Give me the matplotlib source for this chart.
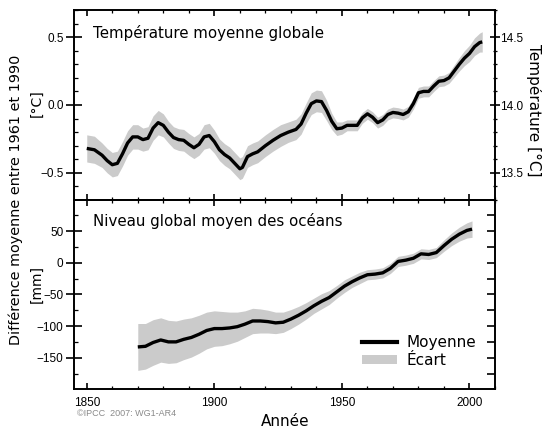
import matplotlib
matplotlib.use('Agg')
import matplotlib.pyplot as plt
from matplotlib.ticker import MultipleLocator
from matplotlib.lines import Line2D
from matplotlib.patches import Patch

# ---- data ----
temp_years = [1850, 1853, 1856, 1858, 1860, 1862, 1864, 1866, 1868, 1870, 1872, 1874,
              1876, 1878, 1880, 1882, 1884, 1886, 1888, 1890, 1892, 1894, 1896, 1898,
              1900, 1902, 1904, 1906, 1908, 1910, 1911, 1913, 1915, 1917, 1920, 1923,
              1926, 1929, 1932, 1934, 1936, 1938, 1940, 1942, 1944, 1946, 1948, 1950,
              1952, 1954, 1956, 1958, 1960, 1962, 1964, 1966, 1968, 1970, 1972, 1974,
              1976, 1978, 1980, 1982, 1984, 1986, 1988, 1990, 1992, 1994, 1996, 1998,
              2000, 2002, 2004, 2005]
temp_mean = [-0.32, -0.33, -0.37, -0.41, -0.44, -0.43, -0.36, -0.28, -0.235, -0.235, -0.255, -0.245,
             -0.17, -0.13, -0.15, -0.20, -0.24, -0.255, -0.26, -0.29, -0.315, -0.29, -0.235, -0.225,
             -0.27, -0.33, -0.365, -0.39, -0.43, -0.47, -0.46, -0.38, -0.36, -0.345, -0.30, -0.26,
             -0.225, -0.20, -0.18, -0.14, -0.06, 0.01, 0.03, 0.025, -0.04, -0.12, -0.175, -0.17,
             -0.15, -0.15, -0.15, -0.095, -0.065, -0.09, -0.13, -0.11, -0.07, -0.055, -0.06, -0.07,
             -0.05, 0.01, 0.09, 0.10, 0.10, 0.14, 0.175, 0.18, 0.20, 0.25, 0.30, 0.345,
             0.38, 0.43, 0.46, 0.465]
temp_err = [0.10, 0.10, 0.09, 0.09, 0.09, 0.09, 0.09, 0.09, 0.09, 0.09, 0.085, 0.085,
            0.09, 0.09, 0.085, 0.08, 0.08, 0.08, 0.08, 0.08, 0.08, 0.08, 0.09, 0.09,
            0.085, 0.08, 0.08, 0.08, 0.08, 0.08, 0.08, 0.08, 0.08, 0.08, 0.08, 0.08,
            0.08, 0.075, 0.075, 0.075, 0.075, 0.08, 0.08, 0.08, 0.075, 0.06, 0.05, 0.045,
            0.04, 0.04, 0.04, 0.04, 0.04, 0.04, 0.04, 0.04, 0.04, 0.04, 0.04, 0.04,
            0.04, 0.04, 0.04, 0.04, 0.04, 0.04, 0.04, 0.04, 0.04, 0.045, 0.05, 0.055,
            0.06, 0.065, 0.07, 0.075]

sea_years = [1870, 1873, 1876, 1879, 1882, 1885, 1888, 1891, 1894, 1897, 1900, 1903,
             1906, 1909, 1912, 1915, 1918, 1921, 1924, 1927, 1930, 1933, 1936, 1939,
             1942, 1945, 1948, 1951, 1954, 1957, 1960, 1963, 1966, 1969, 1972, 1975,
             1978, 1981, 1984, 1987, 1990, 1993, 1996, 1999, 2001]
sea_mean = [-133, -132, -126, -122, -125, -125, -121, -118, -113, -107, -104, -104,
            -103, -101, -97, -92, -92, -93, -95, -94, -89, -83, -76, -68,
            -61, -55, -46, -37, -30, -24, -19, -18, -16, -9, 2, 4,
            7, 14, 13, 16, 27, 37, 45, 51, 53]
sea_err = [37, 36, 36, 35, 34, 33, 32, 31, 30, 29, 28, 27,
           25, 23, 21, 20, 19, 18, 17, 16, 15, 14, 13, 12,
           12, 11, 10, 10, 9, 9, 8, 8, 8, 8, 8, 8,
           8, 8, 8, 8, 9, 10, 11, 12, 13]

temp_offset = 14.0
title_temp = "Température moyenne globale"
title_sea = "Niveau global moyen des océans"
legend_labels = ["Moyenne", "Écart"]

# ---- style ----
BAND = '#cbcbcb'
LINE = 'black'
TICKFONT = 'Liberation Sans'
TXTFONT = 'DejaVu Sans'

fig = plt.figure(figsize=(5.42, 4.30), dpi=100)
L, W = 74 / 542, 421 / 542
ax1 = fig.add_axes([L, 1 - 200 / 430, W, 190 / 430])
ax2 = fig.add_axes([L, 1 - 389 / 430, W, 189 / 430])

lo = [m - e for m, e in zip(temp_mean, temp_err)]
hi = [m + e for m, e in zip(temp_mean, temp_err)]
ax1.fill_between(temp_years, lo, hi, color=BAND, lw=0)
ax1.plot(temp_years, temp_mean, color=LINE, lw=2.4, solid_capstyle='butt')

lo = [m - e for m, e in zip(sea_mean, sea_err)]
hi = [m + e for m, e in zip(sea_mean, sea_err)]
ax2.fill_between(sea_years, lo, hi, color=BAND, lw=0)
ax2.plot(sea_years, sea_mean, color=LINE, lw=2.4, solid_capstyle='butt')

for ax in (ax1, ax2):
    ax.set_xlim(1845, 2010)
    ax.xaxis.set_major_locator(MultipleLocator(50))
    ax.xaxis.set_minor_locator(MultipleLocator(10))
    for s in ax.spines.values():
        s.set_linewidth(1.2)
    ax.tick_params(axis='x', which='major', direction='in', length=4.5, width=1.2,
                   top=True, bottom=True, labelsize=8.5, pad=6, labelfontfamily=TICKFONT)
    ax.tick_params(axis='x', which='minor', direction='in', length=2.2, width=0.9,
                   top=True, bottom=True)
    ax.tick_params(axis='y', which='major', direction='inout', length=12, width=1.2,
                   labelsize=8.5, pad=1.5, labelfontfamily=TICKFONT, right=False)
    ax.tick_params(axis='y', which='minor', direction='in', length=3, width=0.9, right=False)

ax1.tick_params(axis='x', labelbottom=False)
ax1.set_ylim(-0.7, 0.7)
ax1.yaxis.set_major_locator(MultipleLocator(0.5))
ax1.yaxis.set_minor_locator(MultipleLocator(0.1))

ax2.set_ylim(-199.4, 99)
ax2.yaxis.set_major_locator(MultipleLocator(50))
ax2.yaxis.set_minor_locator(MultipleLocator(25))

# right axis of the temperature panel (absolute temperature)
r1 = ax1.twinx()
r1.set_ylim(-0.7 + temp_offset, 0.7 + temp_offset)
r1.yaxis.set_major_locator(MultipleLocator(0.5))
r1.yaxis.set_minor_locator(MultipleLocator(0.1))
r1.tick_params(axis='y', which='major', direction='inout', length=6.5, width=1.2,
               labelsize=8.5, pad=0.5, labelfontfamily=TICKFONT)
r1.tick_params(axis='y', which='minor', direction='inout', length=3.5, width=0.9)
for s in r1.spines.values():
    s.set_linewidth(1.2)

# right ticks of the sea-level panel
r2 = ax2.twinx()
r2.set_ylim(-199.4, 99)
r2.yaxis.set_major_locator(MultipleLocator(25))
r2.tick_params(axis='y', which='major', direction='in', length=6, width=1.2,
               labelright=False)
for s in r2.spines.values():
    s.set_linewidth(1.2)

ax1.text(0.045, 0.88, title_temp, transform=ax1.transAxes, fontsize=10.8,
         family=TXTFONT, va='center', ha='left')
ax2.text(0.045, 0.89, title_sea, transform=ax2.transAxes, fontsize=10.8,
         family=TXTFONT, va='center', ha='left')

handles = [Line2D([], [], color=LINE, lw=3), Patch(facecolor=BAND, edgecolor='none')]
ax2.legend(handles, legend_labels, loc='lower right', bbox_to_anchor=(0.97, 0.08),
           frameon=False, prop={'family': TXTFONT, 'size': 11}, handlelength=2.3,
           handleheight=0.6, handletextpad=0.6, labelspacing=0.15, borderaxespad=0)

fig.text(16 / 542, 1 - 200 / 430, "Différence moyenne entre 1961 et 1990", rotation=90,
         ha='center', va='center', fontsize=10.4, family=TXTFONT)
fig.text(37 / 542, 1 - 103 / 430, "[°C]", rotation=90, ha='center', va='center',
         fontsize=10, family=TXTFONT)
fig.text(37 / 542, 1 - 284 / 430, "[mm]", rotation=90, ha='center', va='center',
         fontsize=10, family=TXTFONT)
fig.text(534 / 542, 1 - 110 / 430, "Température [°C]", rotation=270, ha='center',
         va='center', fontsize=11, family=TXTFONT)
fig.text(285 / 542, 1 - 421 / 430, "Année", ha='center', va='center', fontsize=11,
         family=TXTFONT)
fig.text(77 / 542, 1 - 414 / 430, "©IPCC  2007: WG1-AR4", ha='left', va='center',
         fontsize=6.5, family=TICKFONT, color='#8a8a8a')

fig.savefig('out.png', dpi=100)
